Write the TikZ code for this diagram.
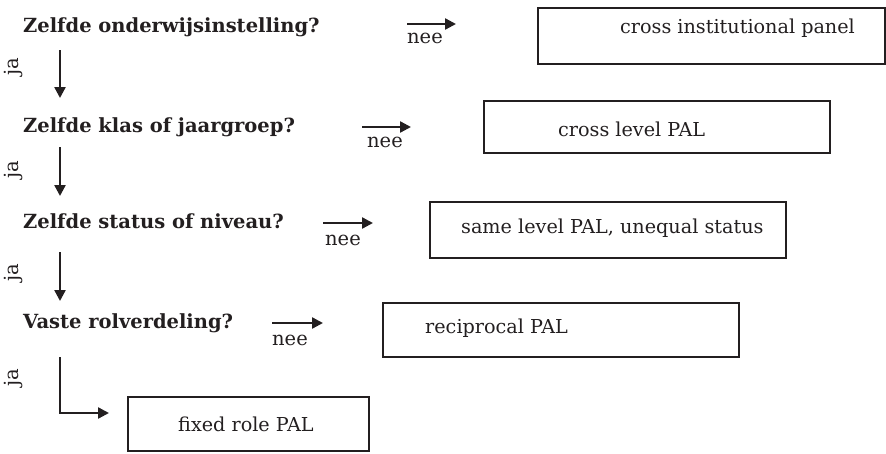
\documentclass[tikz,border=0pt]{standalone}
\usepackage{fontspec}
\setmainfont{DejaVu Serif}
\usetikzlibrary{arrows.meta}
\definecolor{ink}{HTML}{231F20}
\begin{document}
\begin{tikzpicture}[x=1pt,y=-1pt,
  q/.style={font=\bfseries\fontsize{19.5}{23}\selectfont, anchor=base west, inner sep=0pt, text=ink},
  txt/.style={font=\fontsize{19.2}{23}\selectfont, anchor=base west, inner sep=0pt, text=ink},
  lbl/.style={font=\fontsize{19.5}{23}\selectfont, anchor=base, inner sep=0pt, text=ink},
  jalbl/.style={font=\fontsize{19.5}{23}\selectfont, rotate=90, inner sep=0pt, text=ink},
  box/.style={draw=ink, line width=2pt, anchor=north west, inner sep=0pt},
  arr/.style={draw=ink, line width=2.4pt, -{Triangle[length=11pt,width=11pt]}}]
\useasboundingbox (0,0) rectangle (886,453);

% questions
\node[q] (q1) at (23,32) {Zelfde onderwijsinstelling?};
\node[q] (q2) at (23,132) {Zelfde klas of jaargroep?};
\node[q] (q3) at (23,228) {Zelfde status of niveau?};
\node[q] (q4) at (23,328) {Vaste rolverdeling?};

% boxes
\node[box, minimum width=347pt, minimum height=56pt] (b1) at (537,7) {};
\node[box, minimum width=346pt, minimum height=52pt] (b2) at (483,100) {};
\node[box, minimum width=356pt, minimum height=56pt] (b3) at (429,201) {};
\node[box, minimum width=356pt, minimum height=54pt] (b4) at (382,302) {};
\node[box, minimum width=241pt, minimum height=54pt] (b5) at (127,396) {};

% box texts
\node[txt] (t1) at (620,33) {cross institutional panel};
\node[txt] (t2) at (558,136) {cross level PAL};
\node[txt] (t3) at (461,233) {same level PAL, unequal status};
\node[txt] (t4) at (425,333) {reciprocal PAL};
\node[txt] (t5) at (178,431) {fixed role PAL};

% nee arrows
\coordinate (n1a) at (407,24); \coordinate (n1b) at (456,24);
\coordinate (n2a) at (362,127); \coordinate (n2b) at (411,127);
\coordinate (n3a) at (323,223); \coordinate (n3b) at (373,223);
\coordinate (n4a) at (272,323); \coordinate (n4b) at (323,323);
\draw[arr] (n1a) -- (n1b);
\draw[arr] (n2a) -- (n2b);
\draw[arr] (n3a) -- (n3b);
\draw[arr] (n4a) -- (n4b);
\node[lbl] (nee1) at (425,43) {nee};
\node[lbl] (nee2) at (385,147) {nee};
\node[lbl] (nee3) at (343,245) {nee};
\node[lbl] (nee4) at (290,345) {nee};

% ja arrows
\coordinate (j1a) at (60,50);  \coordinate (j1b) at (60,98);
\coordinate (j2a) at (60,147); \coordinate (j2b) at (60,196);
\coordinate (j3a) at (60,252); \coordinate (j3b) at (60,301);
\coordinate (j4a) at (60,357); \coordinate (j4b) at (109,413);
\draw[arr] (j1a) -- (j1b);
\draw[arr] (j2a) -- (j2b);
\draw[arr] (j3a) -- (j3b);
\draw[arr] (j4a) |- (j4b);
\node[jalbl] (ja1) at (13,67) {ja};
\node[jalbl] (ja2) at (13,170) {ja};
\node[jalbl] (ja3) at (13,273) {ja};
\node[jalbl] (ja4) at (13,378) {ja};
\end{tikzpicture}
\end{document}
